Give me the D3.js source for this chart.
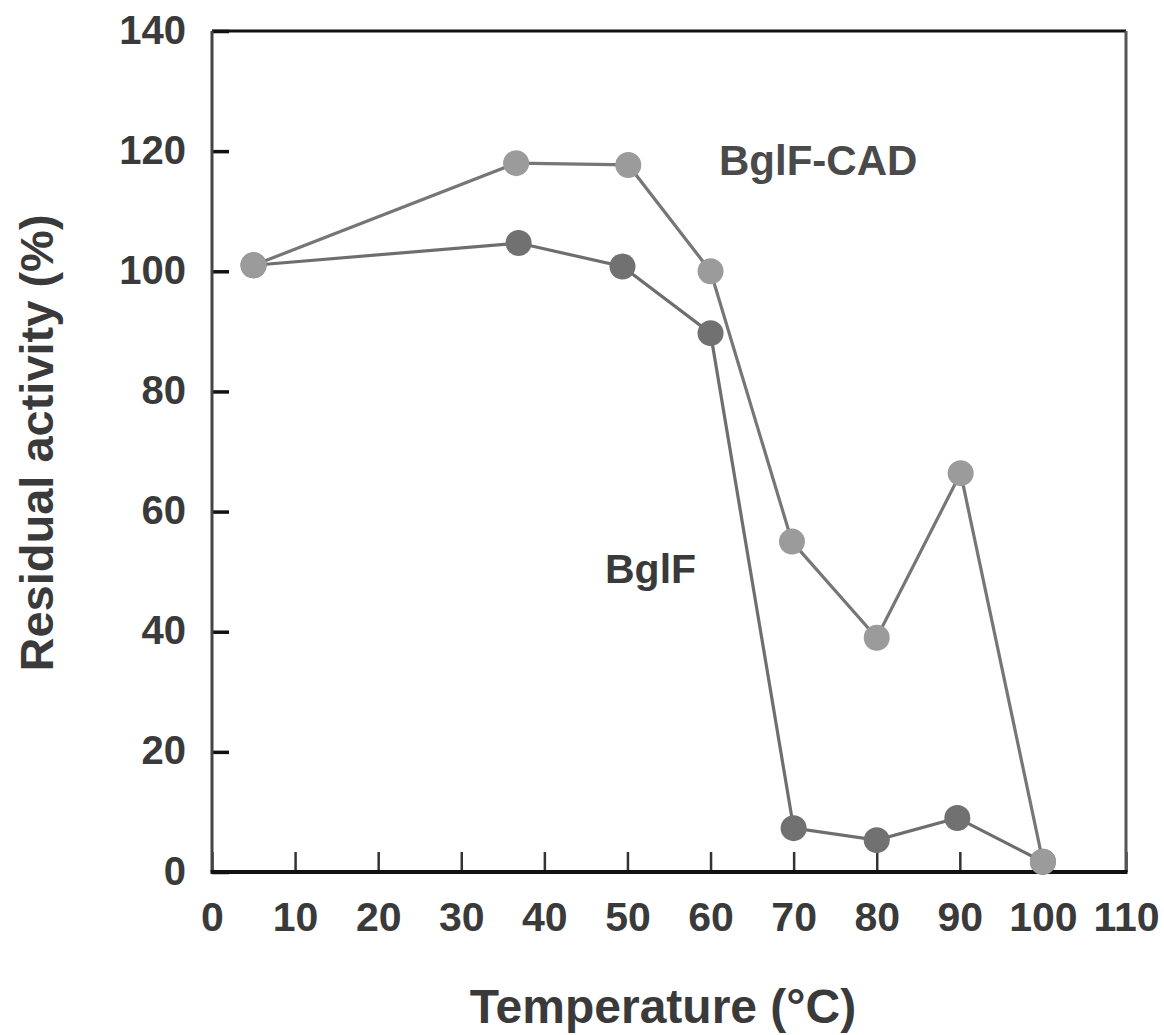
<!DOCTYPE html>
<html>
<head>
<meta charset="utf-8">
<script src="https://cdn.jsdelivr.net/npm/d3@7"></script>
<style>
  html, body { margin: 0; padding: 0; background: #fff; }
  svg { display: block; }
  text { font-family: "Liberation Sans", Arial, Helvetica, sans-serif; font-weight: bold; }
</style>
</head>
<body>
<svg id="chart" width="1164" height="1035"></svg>
<script>
// Residual activity after heat treatment, two enzyme variants
const cadTemp = [5, 36.6, 50.1, 60, 69.8, 80, 90.1, 100];
const cadActivity = [101, 118, 117.7, 100, 55, 39, 66.4, 1.7];

const bglfTemp = [5, 36.9, 49.4, 60, 70, 80, 89.7, 100];
const bglfActivity = [101, 104.7, 100.8, 89.7, 7.3, 5.3, 9.0, 1.7];

const xTicks = [0, 10, 20, 30, 40, 50, 60, 70, 80, 90, 100, 110];
const yTicks = [0, 20, 40, 60, 80, 100, 120, 140];

const seriesNames = ["BglF-CAD", "BglF"];
const xTitle = "Temperature (°C)";
const yTitle = "Residual activity (%)";

(function draw() {
  const svg = d3.select("#chart");
  const plotLeft = 212, plotRight = 1126, plotTop = 31, plotBottom = 872;

  const x = d3.scaleLinear().domain([0, 110]).range([plotLeft, plotRight]);
  const y = d3.scaleLinear().domain([0, 140]).range([plotBottom, plotTop]);

  // Axes with inward ticks
  const yAxis = svg.append("g")
    .attr("transform", `translate(${plotLeft},0)`)
    .call(d3.axisLeft(y).tickValues(yTicks).tickSize(-17).tickPadding(26).tickFormat(d3.format("d")));
  yAxis.select(".domain").remove();
  yAxis.selectAll(".tick line").attr("stroke", "#111").attr("stroke-width", 3.5);
  yAxis.selectAll(".tick text").attr("font-size", 40).attr("fill", "#3a3a3a").attr("dy", "0.30em");

  const xAxis = svg.append("g")
    .attr("transform", `translate(0,${plotBottom})`)
    .call(d3.axisBottom(x).tickValues(xTicks).tickSize(-20).tickPadding(30).tickFormat(d3.format("d")));
  xAxis.select(".domain").remove();
  xAxis.selectAll(".tick line").attr("stroke", "#333").attr("stroke-width", 2.5);
  xAxis.selectAll(".tick text").attr("font-size", 41).attr("fill", "#3a3a3a");

  // Plot frame
  const frame = svg.append("g").attr("fill", "none");
  frame.append("line").attr("x1", plotLeft).attr("y1", plotTop).attr("x2", plotRight).attr("y2", plotTop)
    .attr("stroke", "#111").attr("stroke-width", 3);
  frame.append("line").attr("x1", plotRight).attr("y1", plotTop).attr("x2", plotRight).attr("y2", plotBottom)
    .attr("stroke", "#555").attr("stroke-width", 3);
  frame.append("line").attr("x1", plotLeft).attr("y1", plotTop).attr("x2", plotLeft).attr("y2", plotBottom)
    .attr("stroke", "#444").attr("stroke-width", 3);
  frame.append("line").attr("x1", plotLeft - 1.5).attr("y1", plotBottom).attr("x2", plotRight + 1.5).attr("y2", plotBottom)
    .attr("stroke", "#111").attr("stroke-width", 4);

  // Series
  const cad = cadTemp.map((t, i) => ({ t, v: cadActivity[i] }));
  const bglf = bglfTemp.map((t, i) => ({ t, v: bglfActivity[i] }));

  const line = d3.line().x(d => x(d.t)).y(d => y(d.v));

  svg.append("path").datum(cad).attr("d", line)
    .attr("fill", "none").attr("stroke", "#767676").attr("stroke-width", 3.2);
  svg.append("path").datum(bglf).attr("d", line)
    .attr("fill", "none").attr("stroke", "#6e6e6e").attr("stroke-width", 3.2);

  svg.append("g").selectAll("circle").data(bglf).join("circle")
    .attr("cx", d => x(d.t)).attr("cy", d => y(d.v)).attr("r", 13)
    .attr("fill", "#717171");
  svg.append("g").selectAll("circle").data(cad).join("circle")
    .attr("cx", d => x(d.t)).attr("cy", d => y(d.v)).attr("r", 13)
    .attr("fill", "#9b9b9b");

  // Series labels
  svg.append("text").attr("x", 719).attr("y", 175).attr("font-size", 42)
    .attr("fill", "#4a4a4a").text(seriesNames[0]);
  svg.append("text").attr("x", 605).attr("y", 583).attr("font-size", 41)
    .attr("fill", "#3a3a3a").text(seriesNames[1]);

  // Axis titles
  svg.append("text").attr("x", 663).attr("y", 1023).attr("text-anchor", "middle")
    .attr("font-size", 48).attr("fill", "#3a3a3a").text(xTitle);
  svg.append("text").attr("transform", "translate(53,443) rotate(-90)")
    .attr("text-anchor", "middle").attr("font-size", 47).attr("fill", "#3a3a3a").text(yTitle);
})();
</script>
</body>
</html>
